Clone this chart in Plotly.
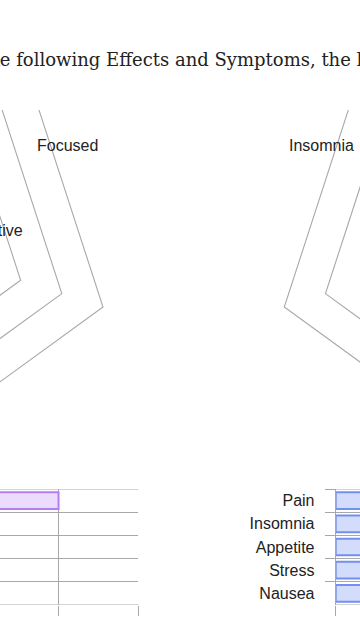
import numpy as np
import plotly.graph_objects as go

# ---------------- data ----------------
title_text = "For people who like following Effects and Symptoms, the highest rated strains"

effects = ["Focused", "Creative", "Happy", "Relaxed", "Uplifted"]
effects_pct = [75, 48, 42, 38, 30]

symptoms = ["Pain", "Insomnia", "Appetite", "Stress", "Nausea"]
symptoms_pct = [62, 55, 48, 41, 35]

radar_rings = [1, 2, 3, 4, 5]
radar_spokes = 5
effects_radar_labels = ["Focused", "Creative"]
symptoms_radar_labels = ["Insomnia"]

# ---------------- styles / layout constants ----------------
W, H = 360, 640
GRID = "#a8a8a8"
TXT = "#222222"
SANS = "Liberation Sans, Arial, Helvetica, sans-serif"
U = 43.3  # px per radar ring unit

# radar area (px)
R_TOP, R_BOT = 110, 470
radar_span = (R_BOT - R_TOP) / U


def py2u(py):
    return (R_BOT - py) / U


left_c = (-102.9 / U, py2u(240.1))
right_c = (490.2 / U, py2u(240.1))


def rings_xy(c):
    xs, ys = [], []
    ang = [np.deg2rad(270 + 360.0 / radar_spokes * k) for k in range(radar_spokes + 1)]
    for r in radar_rings:
        for a in ang:
            xs.append(c[0] + r * np.cos(a))
            ys.append(c[1] + r * np.sin(a))
        xs.append(None)
        ys.append(None)
    return xs, ys


fig = go.Figure()

for c in (left_c, right_c):
    xs, ys = rings_xy(c)
    fig.add_trace(go.Scatter(x=xs, y=ys, mode="lines", xaxis="x3", yaxis="y3",
                             line=dict(color=GRID, width=1.1), hoverinfo="skip"))

# bars
fig.add_trace(go.Bar(y=effects, x=effects_pct, orientation="h", xaxis="x", yaxis="y",
                     marker=dict(color="#ebdcfd", line=dict(color="#b57cf3", width=2)),
                     width=0.72))
fig.add_trace(go.Bar(y=symptoms, x=symptoms_pct, orientation="h", xaxis="x2", yaxis="y2",
                     marker=dict(color="#d3dcfb", line=dict(color="#7390ee", width=2)),
                     width=0.72))

bar_dom = [1 - 605 / H, 1 - 489 / H]
px_per_pct = 79.7 / 25
cat_range = [len(effects) - 0.5, -0.5]

left_right_px = 138.3
fig.update_layout(
    width=W, height=H, margin=dict(l=0, r=0, t=0, b=0),
    paper_bgcolor="white", plot_bgcolor="white", showlegend=False,
    title=dict(text=title_text, x=0.524, xanchor="center", xref="container",
               y=1 - 60 / H, yanchor="middle", yref="container",
               font=dict(family="DejaVu Serif", size=18, color=TXT)),
    xaxis=dict(domain=[0, left_right_px / W],
               range=[100 - left_right_px / px_per_pct, 100.05],
               anchor="y", tick0=0, dtick=25, showgrid=True, gridcolor=GRID, gridwidth=1,
               ticks="outside", ticklen=10, tickcolor=GRID, showticklabels=False,
               zeroline=False, showline=False, fixedrange=True),
    yaxis=dict(domain=bar_dom, anchor="x", type="category", range=cat_range,
               tickson="boundaries", showgrid=True, gridcolor=GRID, gridwidth=1,
               ticks="", showticklabels=False, showline=False, zeroline=False,
               automargin=False, fixedrange=True),
    xaxis2=dict(domain=[335.7 / W, 1], range=[0, (W - 335.7) / px_per_pct],
                anchor="y2", tick0=0, dtick=25, showgrid=True, gridcolor=GRID, gridwidth=1,
                ticks="outside", ticklen=10, tickcolor=GRID, showticklabels=False,
                zeroline=False, showline=False, fixedrange=True),
    yaxis2=dict(domain=bar_dom, anchor="x2", type="category", range=cat_range,
                tickson="boundaries", showgrid=True, gridcolor=GRID, gridwidth=1,
                ticks="outside", ticklen=10, tickcolor=GRID, showline=True, linecolor=GRID,
                linewidth=1, zeroline=False, automargin=False, ticklabelstandoff=17,
                tickfont=dict(family=SANS, size=16, color=TXT), fixedrange=True),
    xaxis3=dict(domain=[0, 1], range=[0, W / U], anchor="y3", visible=False, fixedrange=True),
    yaxis3=dict(domain=[1 - R_BOT / H, 1 - R_TOP / H], range=[0, radar_span], anchor="x3",
                visible=False, fixedrange=True),
)

# edge gridlines of the bar panels (top and bottom category boundaries)
for xa, ya in (("x", "y"), ("x2", "y2")):
    for yv in cat_range:
        fig.add_shape(type="line", xref=f"{xa} domain", yref=ya, x0=0, x1=1, y0=yv, y1=yv,
                      line=dict(color=GRID, width=1), layer="below")

# radar labels
lab_font = dict(family=SANS, size=16, color=TXT)
fig.add_annotation(text=effects_radar_labels[0], x=67.5 / U, y=py2u(145), xref="x3", yref="y3",
                   showarrow=False, xanchor="center", yanchor="middle", font=lab_font)
fig.add_annotation(text=effects_radar_labels[1], x=25 / U, y=py2u(230), xref="x3", yref="y3",
                   showarrow=False, xanchor="right", yanchor="middle", font=lab_font)
fig.add_annotation(text=symptoms_radar_labels[0], x=321.5 / U, y=py2u(145.5), xref="x3", yref="y3",
                   showarrow=False, xanchor="center", yanchor="middle", font=lab_font)

fig.write_html("out.html")
